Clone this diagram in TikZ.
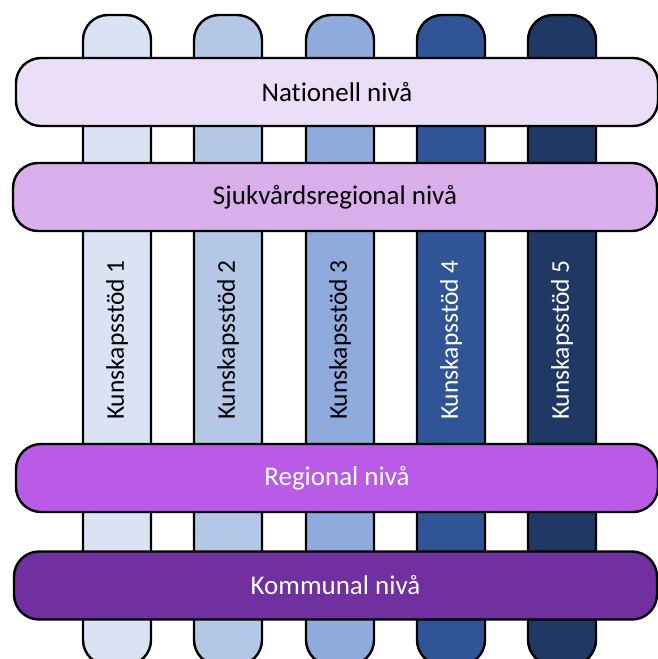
\documentclass[tikz,border=0pt]{standalone}
\usepackage{fontspec}
\setmainfont[Ligatures=NoCommon]{Carlito}
\usepackage{tikz}
\usetikzlibrary{positioning}
\definecolor{ks1}{HTML}{DAE3F3}
\definecolor{ks2}{HTML}{B4C7E7}
\definecolor{ks3}{HTML}{8FAADC}
\definecolor{ks4}{HTML}{2F5597}
\definecolor{ks5}{HTML}{203864}
\definecolor{niv1}{HTML}{EBDEF7}
\definecolor{niv2}{HTML}{D9AFEB}
\definecolor{niv3}{HTML}{B95BE6}
\definecolor{niv4}{HTML}{7030A0}
\begin{document}
\begin{tikzpicture}[x=1pt,y=-1pt,
  pillar/.style={draw, line width=2.4pt, rounded corners=25pt, rotate=90,
    minimum width=650pt, minimum height=68pt, inner sep=0pt,
    font=\fontsize{25.5}{30}\selectfont},
  level/.style={draw, line width=2.4pt, rounded corners=25pt,
    minimum width=642pt, minimum height=68pt, inner sep=0pt,
    font=\fontsize{27}{32}\selectfont}]
\useasboundingbox[clip] (0,0) rectangle (658,659);
% kunskapsstöd
\foreach \i/\x/\c/\t in {1/117/ks1/black, 2/228/ks2/black, 3/340/ks3/black,
    4/451/ks4/white, 5/562/ks5/white}
  \node[pillar, fill=\c, text=\t] (ks\i) at (\x,340) {Kunskapsstöd \i};
% nivåer
\node[level, fill=niv1] (nat) at (337,92) {Nationell nivå};
\node[level, fill=niv2, minimum width=644pt] (sjv) at (335,197) {Sjukvårdsregional nivå};
\node[level, fill=niv3, text=white] (reg) at (337,478) {Regional nivå};
\node[level, fill=niv4, text=white, minimum width=643pt] (kom) at (335.5,585.5) {Kommunal nivå};
\end{tikzpicture}
\end{document}
